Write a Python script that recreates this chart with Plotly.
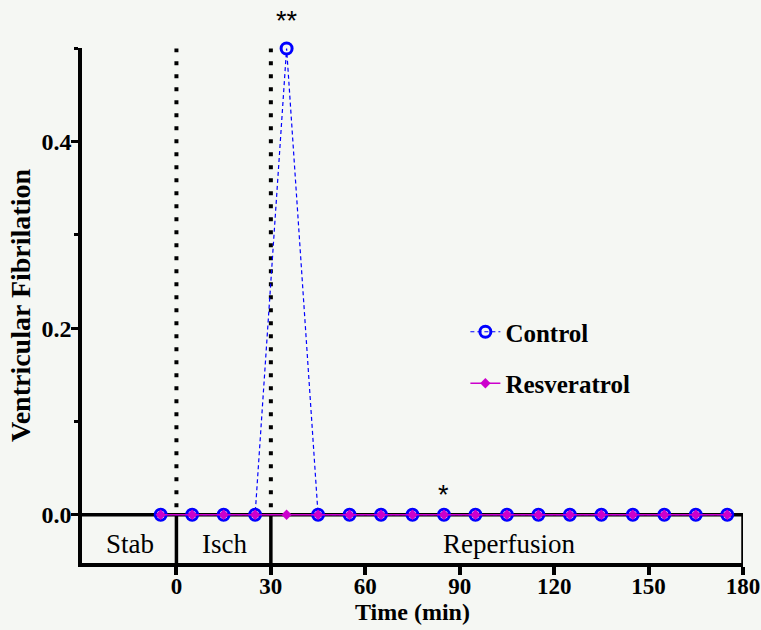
import plotly.graph_objects as go

# Data
time_min = [-5, 5, 15, 25, 35, 45, 55, 65, 75, 85, 95, 105, 115, 125, 135, 145, 155, 165, 175]
control = [0, 0, 0, 0, 0.5, 0, 0, 0, 0, 0, 0, 0, 0, 0, 0, 0, 0, 0, 0]
resveratrol = [0] * 19
x_ticks = [0, 30, 60, 90, 120, 150, 180]
y_ticks = [0.0, 0.2, 0.4]
phases = ["Stab", "Isch", "Reperfusion"]
phase_bounds = [(-30, 0), (0, 30), (30, 180)]

SERIF = "Liberation Serif"
BG = "#f5f7f3"

fig = go.Figure()
fig.add_trace(go.Scatter(
    x=time_min, y=control, name="Control", mode="lines+markers",
    line=dict(color="#0000ff", width=1.2, dash="4px,3px"),
    marker=dict(symbol="circle-open", size=11, color="#0000ff", line=dict(width=3, color="#0000ff")),
    legendgroup="a", cliponaxis=False,
))
fig.add_trace(go.Scatter(
    x=time_min, y=resveratrol, name="Resveratrol", mode="lines+markers",
    line=dict(color="#cc00cc", width=1.5),
    marker=dict(symbol="diamond", size=8, color="#cc00cc"),
    legendgroup="b", cliponaxis=False,
))

shapes = []
for xv in [0, 30]:
    shapes.append(dict(type="line", xref="x", yref="y", x0=xv, x1=xv, y0=0.008, y1=0.5,
                       line=dict(color="black", width=4, dash="4px,9px"), layer="below"))
shapes.append(dict(type="line", xref="x", yref="y", x0=-30, x1=180, y0=0, y1=0,
                   line=dict(color="black", width=3.5), layer="below"))
for xv in [0, 30, 180]:
    shapes.append(dict(type="line", xref="x", yref="paper", x0=xv, x1=xv, y0=0, y1=0.0513 / 0.5518,
                       line=dict(color="black", width=3.5), layer="below"))

annotations = []
for name, (a, b) in zip(phases, phase_bounds):
    annotations.append(dict(x=(a + b) / 2 + (0.5 if name == "Reperfusion" else 0.3), y=-0.031, xref="x", yref="y",
                            text=name, showarrow=False, font=dict(family=SERIF, size=27, color="black"),
                            yanchor="middle"))
annotations.append(dict(x=35, y=1.02, xref="x", yref="paper", text="**", showarrow=False,
                        font=dict(family="Liberation Sans", size=27, color="black"), yanchor="bottom"))
annotations.append(dict(x=85, y=0.003, xref="x", yref="y", text="*", showarrow=False,
                        font=dict(family="Liberation Sans", size=27, color="black"), yanchor="bottom"))

fig.update_layout(
    width=761, height=630,
    margin=dict(l=82, r=18, t=47.5, b=67),
    paper_bgcolor=BG, plot_bgcolor=BG,
    font=dict(family=SERIF, color="black"),
    showlegend=True,
    legend=dict(x=0.58, y=0.399, xanchor="left", yanchor="middle", bgcolor="rgba(0,0,0,0)",
                font=dict(family=SERIF, size=25, color="black", weight="bold"),
                tracegroupgap=16, itemwidth=30, traceorder="grouped"),
    xaxis=dict(range=[-30, 180], tickvals=x_ticks, ticks="outside", ticklen=8, tickwidth=3.5,
               tickcolor="black", showline=True, linewidth=3.5, linecolor="black", showgrid=False,
               zeroline=False, automargin=False, ticklabelstandoff=-8,
               tickfont=dict(family=SERIF, size=23, color="black", weight="bold"),
               title=dict(text="<b>Time (min)</b>", font=dict(family=SERIF, size=24, color="black"), standoff=2)),
    yaxis=dict(range=[-0.0518, 0.5005], tickvals=y_ticks, tickformat=".1f", ticks="outside", ticklen=7,
               tickwidth=3, tickcolor="black", showline=True, linewidth=3.5, linecolor="black",
               showgrid=False, zeroline=False, automargin=False, ticklabelstandoff=-5,
               minor=dict(tickvals=[0.1, 0.3, 0.5], ticks="outside", ticklen=4, tickwidth=3, tickcolor="black"),
               tickfont=dict(family=SERIF, size=24, color="black", weight="bold"),
               title=dict(text="<b>Ventricular Fibrilation</b>", font=dict(family=SERIF, size=28, color="black"), standoff=4)),
    shapes=shapes, annotations=annotations,
)

fig.write_html("out.html")
